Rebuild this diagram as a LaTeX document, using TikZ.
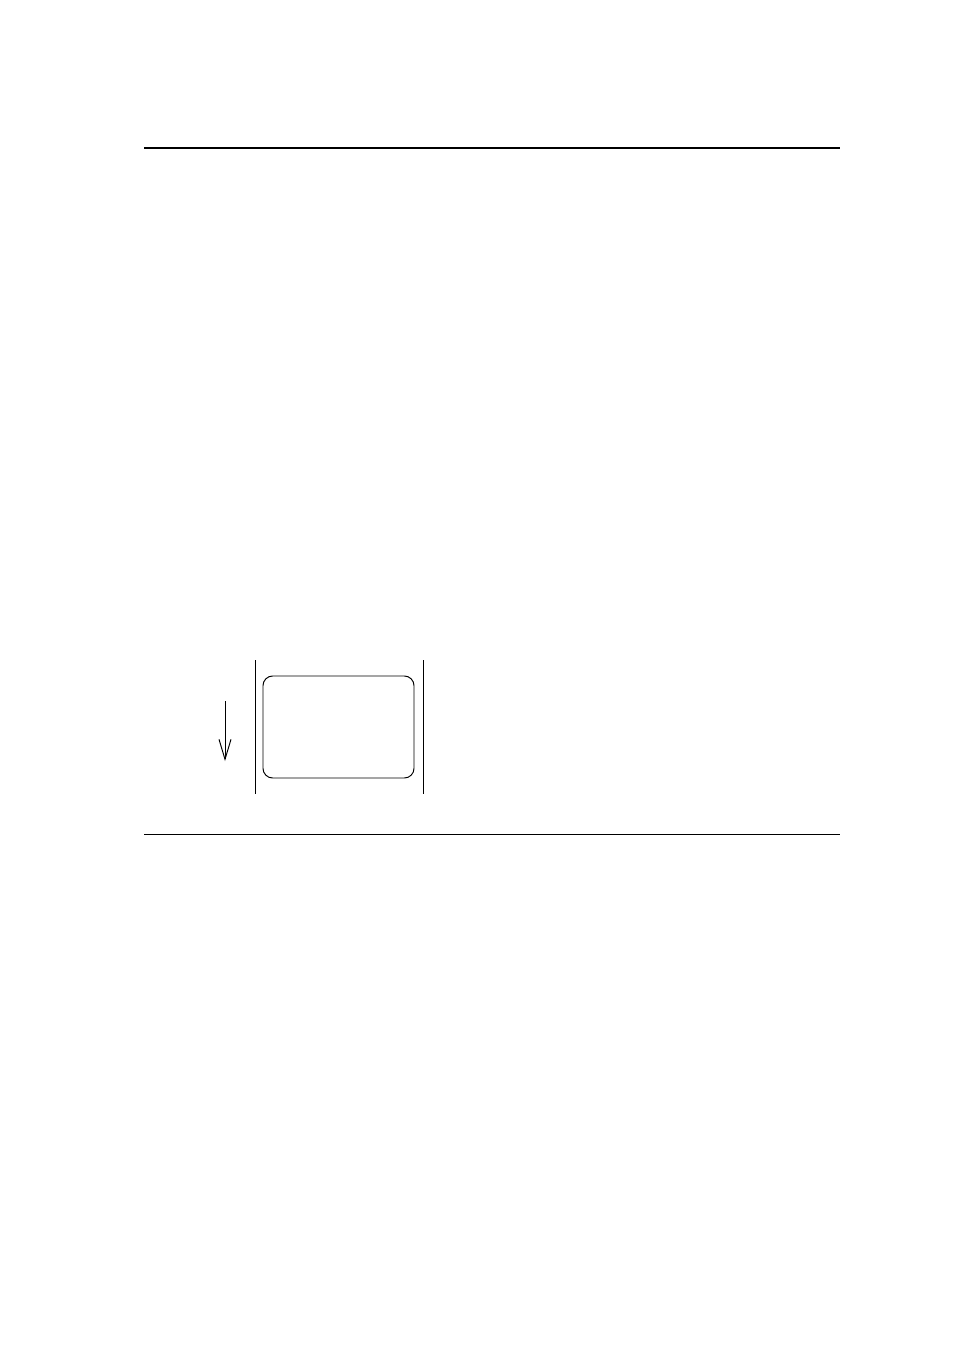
\documentclass[tikz,border=0pt]{standalone}
\usetikzlibrary{arrows.meta}
\begin{document}
\begin{tikzpicture}[x=0.624pt,y=-0.624pt]
            \useasboundingbox (0,0) rectangle (954,1348);
            \draw[line width=1.3pt] (144,148) -- (840,148);
            \draw[line width=0.6pt] (144,834) -- (840,834);
            \draw[line width=0.6pt] (255,660) -- (255,794);
            \draw[line width=0.6pt] (423,660) -- (423,794);
            \draw[line width=0.6pt,rounded corners=6pt] (263,676) rectangle (414,778);
            \coordinate (arrtop) at (225,701);
            \coordinate (arrbot) at (225,761);
            \draw[line width=0.6pt,-{Straight Barb[length=12.5pt,width=7.5pt]}] (arrtop) -- (arrbot);
        \end{tikzpicture}
\end{document}
